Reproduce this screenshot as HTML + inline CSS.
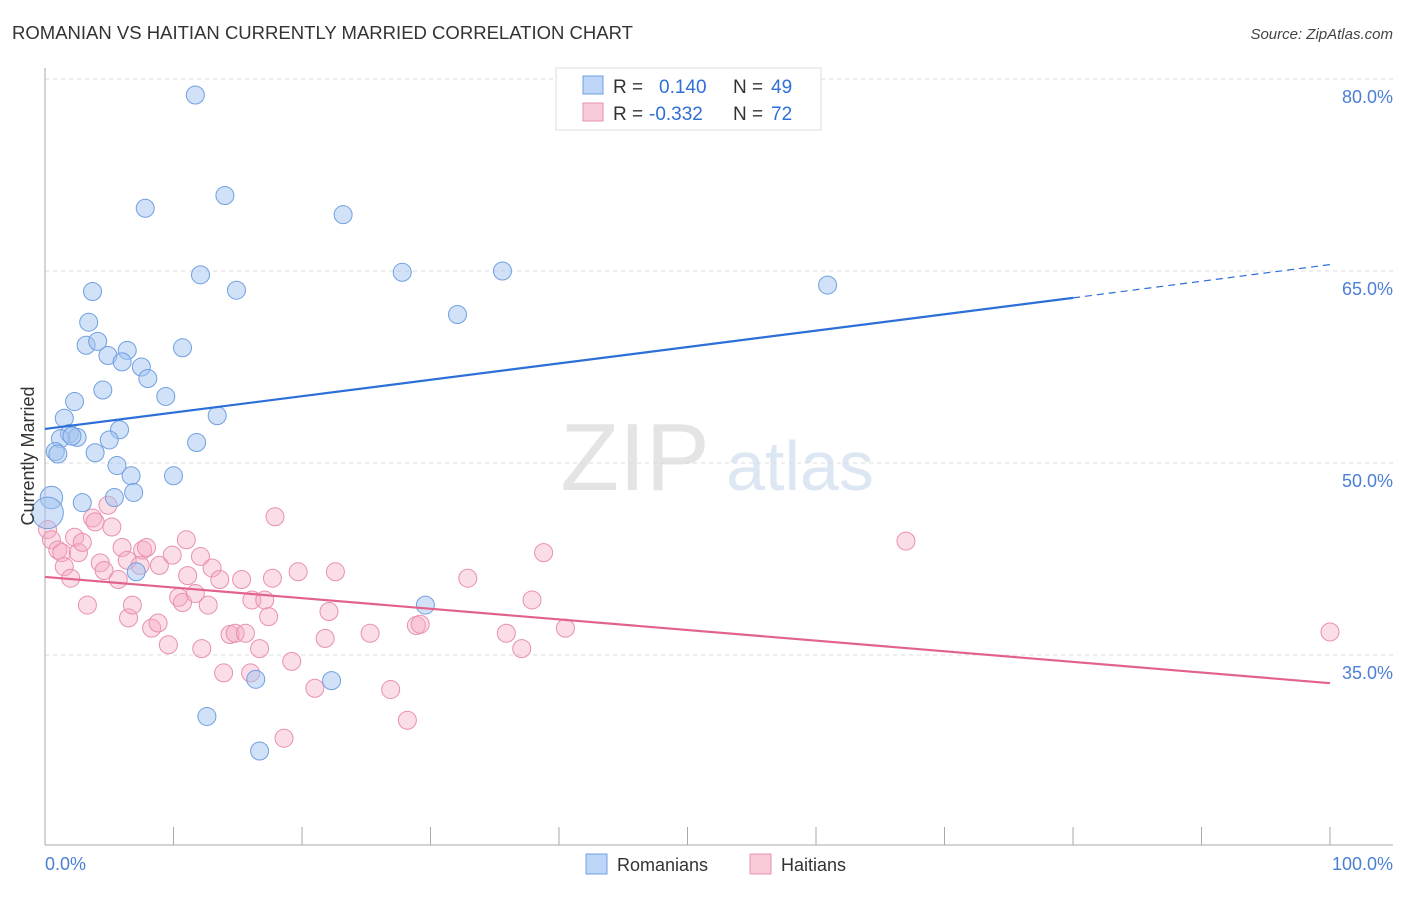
<!DOCTYPE html>
<html><head><meta charset="utf-8"><style>
body{margin:0;background:#fff;font-family:"Liberation Sans",sans-serif}
svg text{font-family:"Liberation Sans",sans-serif}
</style></head><body>
<svg id="chart" width="1406" height="892" xmlns="http://www.w3.org/2000/svg">
<text x="12" y="39" font-size="18" fill="#333" textLength="621" lengthAdjust="spacingAndGlyphs">ROMANIAN VS HAITIAN CURRENTLY MARRIED CORRELATION CHART</text>
<text x="1393" y="39" font-size="15" font-style="italic" fill="#444" text-anchor="end">Source: ZipAtlas.com</text>
<g>
<text x="635" y="490" font-size="96" font-family="Liberation Serif" fill="#e4e4e4" text-anchor="middle">ZIP</text>
<text x="800" y="490" font-size="70" fill="#dde7f4" text-anchor="middle">atlas</text>
</g>
<g id="grid"></g><g id="axes"></g><g id="pts"></g><g id="lines"></g>
<text transform="translate(34,456) rotate(-90)" font-size="18" fill="#333" text-anchor="middle">Currently Married</text>
<text x="45" y="870" font-size="18" fill="#4a7fd4">0.0%</text>
<text x="1393" y="870" font-size="18" fill="#4a7fd4" text-anchor="end">100.0%</text>
<g>
<rect x="556" y="68" width="265" height="62" fill="#fff" stroke="#ddd"/>
<rect x="583" y="76" width="20" height="18" fill="#bdd5f7" stroke="#6fa0e0"/>
<text x="613" y="93" font-size="19" fill="#333">R =</text><text x="659" y="93" font-size="19" fill="#2f6fd6">0.140</text>
<text x="733" y="93" font-size="19" fill="#333">N =</text><text x="771" y="93" font-size="19" fill="#2f6fd6">49</text>
<rect x="583" y="103" width="20" height="18" fill="#f9cbd9" stroke="#e890b0"/>
<text x="613" y="120" font-size="19" fill="#333">R =</text><text x="649" y="120" font-size="19" fill="#2f6fd6">-0.332</text>
<text x="733" y="120" font-size="19" fill="#333">N =</text><text x="771" y="120" font-size="19" fill="#2f6fd6">72</text>
</g>
<g>
<rect x="586" y="854" width="21" height="20" fill="#bdd5f7" stroke="#6fa0e0"/>
<text x="617" y="871" font-size="18" fill="#333">Romanians</text>
<rect x="750" y="854" width="21" height="20" fill="#f9cbd9" stroke="#e890b0"/>
<text x="781" y="871" font-size="18" fill="#333">Haitians</text>
</g>
</svg>
<script>
const yTicks=[80,65,50,35];
const yTickLabels=["80.0%","65.0%","50.0%","35.0%"];
const xTicks=[0,10,20,30,40,50,60,70,80,90,100];
const romX=[11.7,14.0,7.8,23.2,12.1,27.8,35.6,60.9,3.7,14.9,32.1,3.4,3.2,4.1,6.4,10.7,4.9,6.0,7.5,8.0,4.5,9.4,2.3,13.4,1.5,5.8,1.9,2.5,1.2,5.0,11.8,3.9,0.8,1.0,5.6,6.7,10.0,0.5,2.9,5.4,6.9,0.2,7.1,29.6,16.4,22.3,12.6,16.7,2.1];
const romY=[78.75,70.9,69.9,69.4,64.7,64.9,65.0,63.9,63.4,63.5,61.6,61.0,59.2,59.5,58.8,59.0,58.4,57.9,57.5,56.6,55.7,55.2,54.8,53.7,53.5,52.6,52.3,52.0,51.9,51.8,51.6,50.8,50.9,50.7,49.8,49.0,49.0,47.3,46.9,47.3,47.7,46.1,41.5,38.9,33.1,33.0,30.2,27.5,52.1];
const romSize=[1,1,1,1,1,1,1,1,1,1,1,1,1,1,1,1,1,1,1,1,1,1,1,1,1,1,1,1,1,1,1,1,1,1,1,1,1,1.25,1,1,1,1.75,1,1,1,1,1,1,1];
const haiX=[0.2,0.5,1.0,1.3,1.5,2.0,2.3,2.6,2.9,3.3,3.7,3.9,4.3,4.6,4.9,5.2,5.7,6.0,6.4,6.5,6.8,7.4,7.6,7.9,8.3,8.8,8.9,9.6,9.9,10.4,10.7,11.0,11.1,11.7,12.1,12.2,12.7,13.0,13.6,13.9,14.4,14.8,15.3,15.6,16.0,16.1,16.7,17.1,17.4,17.7,17.9,18.6,19.2,19.7,21.0,21.8,22.1,22.6,25.3,26.9,28.2,28.9,29.2,32.9,35.9,37.1,37.9,38.8,40.5,67.0,100.0];
const haiY=[44.8,44.0,43.2,43.0,41.9,41.0,44.2,43.0,43.8,38.9,45.7,45.4,42.2,41.6,46.7,45.0,40.9,43.4,42.4,37.9,38.9,42.0,43.2,43.4,37.1,37.5,42.0,35.8,42.8,39.5,39.1,44.0,41.2,39.8,42.7,35.5,38.9,41.8,40.9,33.6,36.6,36.7,40.9,36.7,33.6,39.3,35.5,39.3,38.0,41.0,45.8,28.5,34.5,41.5,32.4,36.3,38.4,41.5,36.7,32.3,29.9,37.3,37.4,41.0,36.7,35.5,39.3,43.0,37.1,43.9,36.8];
const romTrendX=[0,80,100];
const romTrendY=[52.66,62.9,65.5];
const haiTrendX=[0,100];
const haiTrendY=[41.1,32.8];
const NS='http://www.w3.org/2000/svg';
const xs=v=>45+v*12.85;
const ys=v=>463-(v-50)*12.8;
function mk(tag,attrs,parent){const e=document.createElementNS(NS,tag);for(const k in attrs)e.setAttribute(k,attrs[k]);document.getElementById(parent).appendChild(e);return e;}
yTicks.forEach((t,i)=>{
 const l=mk('line',{x1:45,x2:1393,y1:ys(t),y2:ys(t),stroke:'#ddd','stroke-dasharray':'4,4'},'grid');
 
 
 const tx=mk('text',{x:1393,y:ys(t)+24,'font-size':18,fill:'#4a7fd4','text-anchor':'end'},'grid');
 tx.textContent=yTickLabels[i];
 
 
});
const ax=mk('line',{x1:45,x2:1393,y1:845,y2:845,stroke:'#aaa'},'axes');


const ay=mk('line',{x1:45,x2:45,y1:68,y2:845,stroke:'#aaa'},'axes');


xTicks.forEach(t=>{
 const l=mk('line',{x1:xs(t),x2:xs(t),y1:827,y2:845,stroke:'#aaa'},'axes');
 
 
});
haiX.forEach((v,i)=>{
 const c=mk('circle',{cx:xs(v),cy:ys(haiY[i]),r:9,fill:'rgba(244,170,195,0.4)',stroke:'#e890b0','stroke-width':1},'pts');
 
 
});
romX.forEach((v,i)=>{
 const c=mk('circle',{cx:xs(v),cy:ys(romY[i]),r:9*romSize[i],fill:'rgba(164,196,240,0.5)',stroke:'#6fa0e0','stroke-width':1},'pts');
 
 
});
const rl=mk('line',{x1:xs(romTrendX[0]),y1:ys(romTrendY[0]),x2:xs(romTrendX[1]),y2:ys(romTrendY[1]),stroke:'#2c6fd8','stroke-width':2.2},'lines');


const rd=mk('line',{x1:xs(romTrendX[1]),y1:ys(romTrendY[1]),x2:xs(romTrendX[2]),y2:ys(romTrendY[2]),stroke:'#2c6fd8','stroke-width':1.2,'stroke-dasharray':'7,5'},'lines');


const hl=mk('line',{x1:xs(haiTrendX[0]),y1:ys(haiTrendY[0]),x2:xs(haiTrendX[1]),y2:ys(haiTrendY[1]),stroke:'#e2628e','stroke-width':2.2},'lines');


</script>
</body></html>
